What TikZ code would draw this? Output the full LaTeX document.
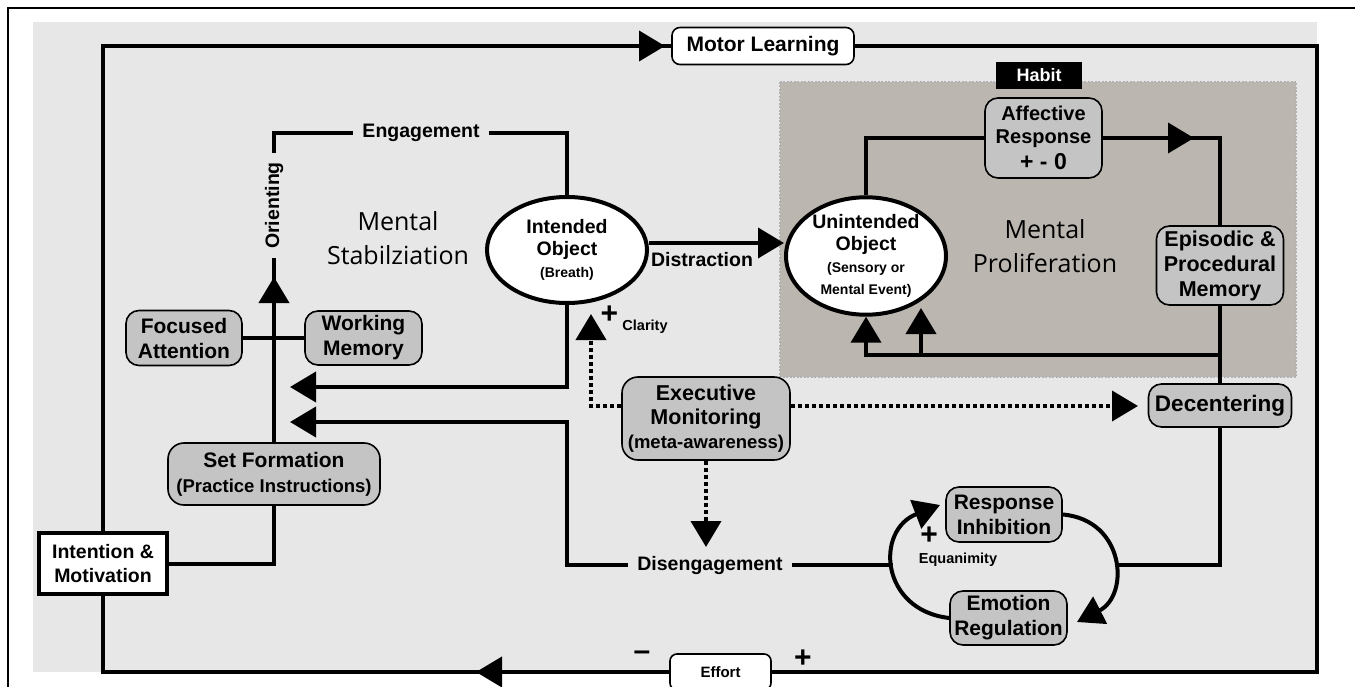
\documentclass[tikz,border=0pt]{standalone}
\usepackage{fontspec}
\setmainfont{Liberation Sans}
\newfontfamily\lightfont{Open Sans}
\usetikzlibrary{arrows.meta,shapes.geometric}
\definecolor{panel}{RGB}{231,231,231}
\definecolor{boxgray}{RGB}{196,196,196}
\definecolor{habitbg}{RGB}{187,183,176}
\newcommand{\fsz}[2]{\fontsize{#1}{#2}\selectfont}
\begin{document}
\begin{tikzpicture}[x=1pt,y=-1pt,
  line/.style={line width=4pt},
  arr/.style={line width=4pt,-{Triangle[length=26pt,width=30pt]}},
  dots/.style={line width=4pt,dash pattern=on 4pt off 3pt},
  graybox/.style={draw,line width=1.6pt,fill=boxgray,rounded corners=13pt,align=center,inner sep=0pt,font=\bfseries\fsz{21}{25}},
  whitebox/.style={draw,line width=1.6pt,fill=white,rounded corners=8pt,inner sep=0pt},
  obj/.style={ellipse,draw,line width=4pt,fill=white,align=center,inner sep=0pt,font=\bfseries\fsz{19.5}{22}},
  lbl/.style={font=\bfseries\fsz{19.5}{22},inner xsep=9pt,inner ysep=3pt},
  sign/.style={font=\bfseries\fsz{30}{30},inner sep=0pt},
  small/.style={font=\bfseries\fsz{14.5}{16}},
  big/.style={font=\lightfont\fsz{25}{34},align=center}]
\useasboundingbox (0,0) rectangle (1355,687);

% background panels
\fill[panel] (33,22) rectangle (1317,672);
\draw[line width=2pt] (8,687) -- (8,8) -- (1355,8);
\filldraw[fill=habitbg,draw=gray!60,line width=2pt,dash pattern=on 2pt off 1.5pt] (780,82) rectangle (1296,377);

% nodes
\node[whitebox,minimum width=182pt,minimum height=37pt,font=\bfseries\fsz{21}{25}] (motor) at (763,46) {Motor Learning};
\node[whitebox,rounded corners=7pt,minimum width=101pt,minimum height=36pt,font=\bfseries\fsz{15}{18}] (effort) at (720.5,672) {Effort};
\node[draw,line width=4pt,fill=white,minimum width=128pt,minimum height=61pt,align=center,inner sep=0pt,font=\bfseries\fsz{19.5}{24}] (intent) at (103,563.5) {Intention \&\\Motivation};
\node[graybox,rounded corners=16pt,minimum width=212pt,minimum height=62pt] (setf) at (274,474) {Set Formation\\{\fsz{18.5}{22}(Practice Instructions)}};
\node[graybox,minimum width=116pt,minimum height=55pt] (focus) at (184,338) {Focused\\Attention};
\node[graybox,minimum width=117pt,minimum height=54pt] (working) at (363.5,338) {Working\\Memory};
\node[obj,minimum width=160pt,minimum height=106pt] (intended) at (567,250) {Intended\\Object\\{\fsz{14}{16}(Breath)}};
\node[obj,minimum width=160pt,minimum height=98pt] (unint) at (866,256) {Unintended\\Object\\{\fsz{14}{16}(Sensory or}\\{\fsz{14}{16}Mental Event)}};
\node[fill=black,text=white,minimum width=86pt,minimum height=27pt,inner sep=0pt,font=\bfseries\fsz{18}{20}] (habit) at (1039,75.5) {Habit};
\node[graybox,font=\bfseries\fsz{20}{23},minimum width=117pt,minimum height=80pt] (affect) at (1043.5,138) {Affective\\Response\\[3pt]{\fsz{23}{26}+ - 0}};
\node[graybox,font=\bfseries\fsz{21.5}{25},minimum width=127pt,minimum height=79pt] (episodic) at (1220,265.5) {Episodic \&\\Procedural\\Memory};
\node[graybox,font=\bfseries\fsz{21.5}{24},minimum width=168pt,minimum height=83pt,rounded corners=16pt] (exec) at (706,418.5) {Executive\\Monitoring\\{\fsz{18.5}{22}(meta-awareness)}};
\node[graybox,font=\bfseries\fsz{22.5}{25},minimum width=143pt,minimum height=43pt] (decenter) at (1220,405.5) {Decentering};
\node[graybox,minimum width=116pt,minimum height=55pt] (respinh) at (1004,514.5) {Response\\Inhibition};
\node[graybox,minimum width=117pt,minimum height=54pt] (emoreg) at (1008.5,618) {Emotion\\Regulation};

\node[big] (stab) at (398,238) {Mental\\Stabilziation};
\node[big] (prolif) at (1045,246) {Mental\\Proliferation};

\node[lbl] (engage) at (421,133) {Engagement};
\node[lbl,rotate=90] (orient) at (274,205.5) {Orienting};
\node[lbl] (distract) at (702,260) {Distraction};
\node[lbl] (diseng) at (710,565) {Disengagement};

\node[sign] (clarplus) at (609.5,314.5) {+};
\node[small] (clar) at (645,327) {Clarity};
\node[sign] (eqplus) at (929,535.5) {+};
\node[small] (equa) at (958,560) {Equanimity};
\node[sign] (effminus) at (642,656) {–};
\node[sign] (effplus) at (803,659) {+};

% free ends
\coordinate (tl) at (665,46);
\coordinate (se) at (1317,672);
\coordinate (bl) at (476,672);
\coordinate (otip) at (274,277);
\coordinate (ret1) at (290,387);
\coordinate (ret2) at (290,422);
\coordinate (eqL) at (893,565);
\coordinate (eqR) at (1115,565);
\coordinate (rtip) at (940,505);
\coordinate (etip) at (1077,622);
\coordinate (fb) at (1220,355);
\coordinate (fb2) at (921,355);
\coordinate (ub2) at (921,308);
\coordinate (atip) at (1194,138);
\coordinate (clartip) at (591,314);
\coordinate (dectip) at (1138,406);
\coordinate (distip) at (706,547);

% outer loop
\draw[line] (intent.north) |- (motor.west);
\draw[arr] (intent.north |- motor.west) -- (tl);
\draw[line] (motor.east) -| (se) -- (effort.east);
\draw[line] (effort.west) -| (intent.south);
\draw[arr] (effort.west) -- (bl);

% stabilization side
\draw[line] (intent.east) -| (setf.south);
\draw[line] (setf.north) -- (orient.west);
\draw[arr] (setf.north) -- (otip);
\draw[line] (orient.east) |- (engage.west);
\draw[line] (engage.east) -| (intended.north);
\draw[line] (focus.east) -- (working.west);
\draw[arr] (intended.south) |- (ret1);
\draw[arr] (diseng.west) -| (intended.south |- ret2) -- (ret2);
\draw[arr] ([yshift=7pt]intended.east) -- ([yshift=13pt]unint.west);

% proliferation side
\draw[line] (unint.north) |- (affect.west);
\draw[line] (affect.east) -| (episodic.north);
\draw[arr] (affect.east) -- (atip);
\draw[line] (episodic.south) -- (decenter.north);
\draw[arr] (fb) -| (unint.south);
\draw[arr] (fb2) -- (ub2);

% regulation loop
\draw[line] (diseng.east) -- (eqL);
\draw[line] (eqR) -| (decenter.south);
\draw[arr] (emoreg.west) .. controls (880,610) and (875,530) .. (rtip);
\draw[arr] (respinh.east) .. controls (1125,520) and (1130,595) .. (etip);

% monitoring
\draw[dots,arr] ([yshift=12.5pt]exec.west) -| (clartip);
\draw[dots,arr] ([yshift=12.5pt]exec.east) -- (dectip);
\draw[dots,arr] (exec.south) -- (distip);

\end{tikzpicture}
\end{document}
